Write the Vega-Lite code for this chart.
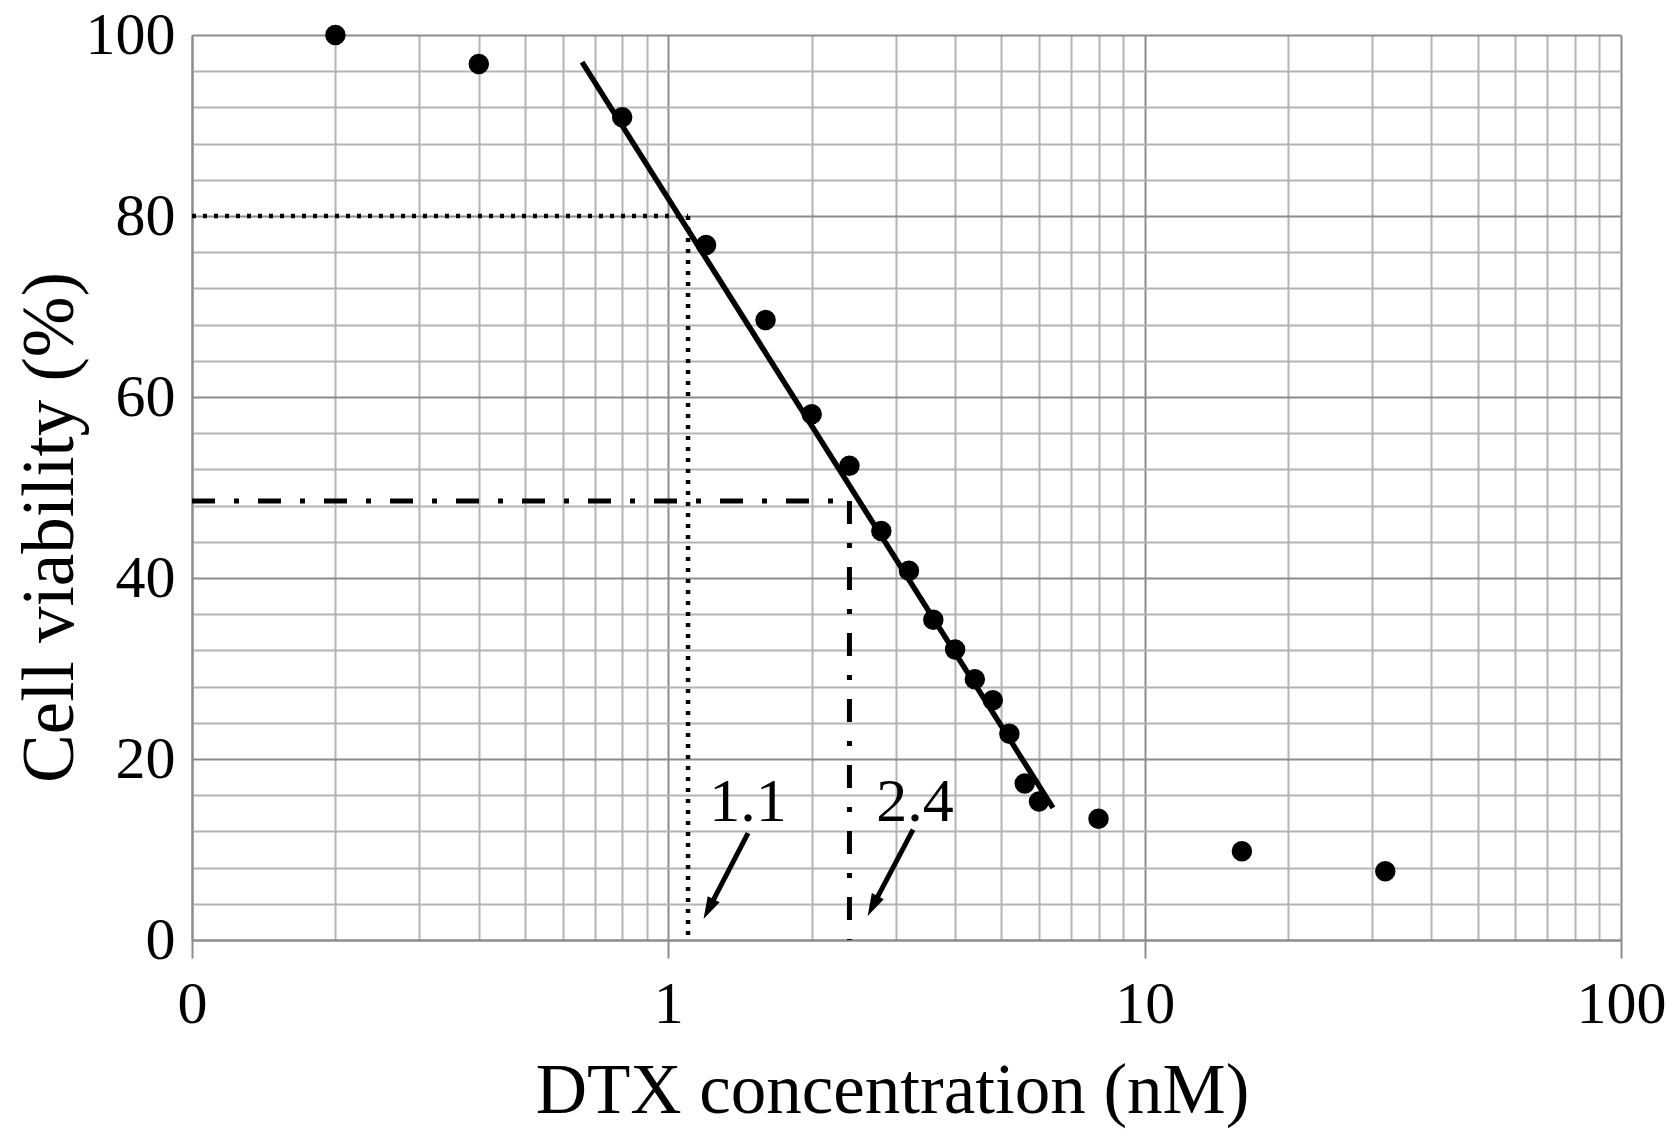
{
  "$schema": "https://vega.github.io/schema/vega-lite/v6.json",
  "width": 1429,
  "height": 905,
  "autosize": {"type": "none"},
  "padding": {"left": 192, "top": 35, "right": 56, "bottom": 204},
  "background": "white",
  "config": {"view": {"stroke": null}, "font": "Liberation Serif"},
  "layer": [
    {
      "data": {"values": [
        {"x": 0.1, "y": 80, "x2": 1.1, "y2": 80},
        {"x": 1.1, "y": 80, "x2": 1.1, "y2": 0}
      ]},
      "mark": {"type": "rule", "color": "black", "strokeWidth": 4.5, "strokeDash": [4, 7]},
      "encoding": {
        "x": {"field": "x", "type": "quantitative",
          "scale": {"type": "log", "domain": [0.1, 100], "nice": false},
          "axis": {
            "values": [0.1,0.2,0.3,0.4,0.5,0.6,0.7,0.8,0.9,1,2,3,4,5,6,7,8,9,10,20,30,40,50,60,70,80,90,100],
            "tickCount": 60,
            "title": "DTX concentration (nM)",
            "titleFont": "Liberation Serif", "titleFontSize": 71, "titleFontWeight": "normal", "titleColor": "black",
            "titleX": 700, "titleY": 172, "titleBaseline": "alphabetic", "titleAlign": "center",
            "labelExpr": "abs(log(datum.value)/LN10 - round(log(datum.value)/LN10)) < 1e-6 ? (datum.value < 0.5 ? '0' : format(datum.value, 'd')) : ''",
            "labelFont": "Liberation Serif", "labelFontSize": 60, "labelColor": "black",
            "labelBaseline": "alphabetic", "labelPadding": 64,
            "labelOverlap": false, "labelBound": false, "labelFlush": false,
            "tickSize": 18, "tickWidth": 2, "tickColor": "#8c8c8c",
            "tickOpacity": {"condition": {"test": "abs(log(datum.value)/LN10 - round(log(datum.value)/LN10)) < 1e-6", "value": 1}, "value": 0},
            "grid": true, "gridWidth": 2,
            "gridColor": {"condition": {"test": "abs(log(datum.value)/LN10 - round(log(datum.value)/LN10)) < 1e-6", "value": "#8c8c8c"}, "value": "#b4b4b4"},
            "domainColor": "#8c8c8c", "domainWidth": 2
          }
        },
        "x2": {"field": "x2"},
        "y": {"field": "y", "type": "quantitative",
          "scale": {"domain": [0, 100], "nice": false},
          "axis": {
            "values": [0,4,8,12,16,20,24,28,32,36,40,44,48,52,56,60,64,68,72,76,80,84,88,92,96,100],
            "tickCount": 60,
            "title": "Cell viability (%)",
            "titleFont": "Liberation Serif", "titleFontSize": 73, "titleFontWeight": "normal", "titleColor": "black",
            "titleX": -120, "titleY": 492, "titleBaseline": "alphabetic", "titleAlign": "center", "titleAngle": 270,
            "labelExpr": "datum.value % 20 == 0 ? format(datum.value, 'd') : ''",
            "labelFont": "Liberation Serif", "labelFontSize": 60, "labelColor": "black",
            "labelBaseline": "alphabetic", "labelOffset": 18, "labelPadding": 17,
            "labelOverlap": false, "labelBound": false, "labelFlush": false,
            "ticks": false,
            "grid": true, "gridWidth": 2,
            "gridColor": {"condition": {"test": "datum.value % 20 == 0", "value": "#8c8c8c"}, "value": "#b4b4b4"},
            "domainColor": "#8c8c8c", "domainWidth": 2
          }
        },
        "y2": {"field": "y2"}
      }
    },
    {
      "data": {"values": [
        {"x": 0.1, "y": 48.5, "x2": 2.4, "y2": 48.5},
        {"x": 2.4, "y": 48.5, "x2": 2.4, "y2": 0}
      ]},
      "mark": {"type": "rule", "color": "black", "strokeWidth": 5, "strokeDash": [23, 19, 5, 19]},
      "encoding": {
        "x": {"field": "x", "type": "quantitative"},
        "x2": {"field": "x2"},
        "y": {"field": "y", "type": "quantitative"},
        "y2": {"field": "y2"}
      }
    },
    {
      "data": {"values": [
        {"x": 0.659, "y": 97.0},
        {"x": 6.42, "y": 14.6}
      ]},
      "mark": {"type": "line", "color": "black", "strokeWidth": 5.5},
      "encoding": {
        "x": {"field": "x", "type": "quantitative"},
        "y": {"field": "y", "type": "quantitative"}
      }
    },
    {
      "data": {"values": [
        {"x": 1.47, "y": 11.8, "x2": 1.215, "y2": 3.41},
        {"x": 3.264, "y": 12.2, "x2": 2.686, "y2": 3.75}
      ]},
      "mark": {"type": "rule", "color": "black", "strokeWidth": 5},
      "encoding": {
        "x": {"field": "x", "type": "quantitative"},
        "x2": {"field": "x2"},
        "y": {"field": "y", "type": "quantitative"},
        "y2": {"field": "y2"}
      }
    },
    {
      "data": {"values": [
        {"x": 1.215, "y": 3.41},
        {"x": 2.686, "y": 3.75}
      ]},
      "mark": {"type": "point", "filled": true, "color": "black", "opacity": 1, "size": 500, "angle": 207, "shape": "M0,-1L0.6,1L-0.6,1Z"},
      "encoding": {
        "x": {"field": "x", "type": "quantitative"},
        "y": {"field": "y", "type": "quantitative"}
      }
    },
    {
      "data": {"values": [
        {"x": 1.47, "y": 13.15, "label": "1.1"},
        {"x": 3.296, "y": 13.15, "label": "2.4"}
      ]},
      "mark": {"type": "text", "font": "Liberation Serif", "fontSize": 62, "color": "black", "align": "center", "baseline": "alphabetic"},
      "encoding": {
        "x": {"field": "x", "type": "quantitative"},
        "y": {"field": "y", "type": "quantitative"},
        "text": {"field": "label"}
      }
    },
    {
      "data": {"values": [
        {"x": 0.2, "y": 100},
        {"x": 0.4, "y": 96.8},
        {"x": 0.8, "y": 90.9},
        {"x": 1.2, "y": 76.8},
        {"x": 1.6, "y": 68.5},
        {"x": 2.0, "y": 58.1},
        {"x": 2.4, "y": 52.4},
        {"x": 2.8, "y": 45.2},
        {"x": 3.2, "y": 40.8},
        {"x": 3.6, "y": 35.4},
        {"x": 4.0, "y": 32.1},
        {"x": 4.4, "y": 28.8},
        {"x": 4.8, "y": 26.5},
        {"x": 5.2, "y": 22.8},
        {"x": 5.6, "y": 17.3},
        {"x": 6.0, "y": 15.3},
        {"x": 8, "y": 13.4},
        {"x": 16, "y": 9.8},
        {"x": 32, "y": 7.6}
      ]},
      "mark": {"type": "point", "filled": true, "color": "black", "opacity": 1, "size": 420},
      "encoding": {
        "x": {"field": "x", "type": "quantitative"},
        "y": {"field": "y", "type": "quantitative"}
      }
    }
  ]
}
